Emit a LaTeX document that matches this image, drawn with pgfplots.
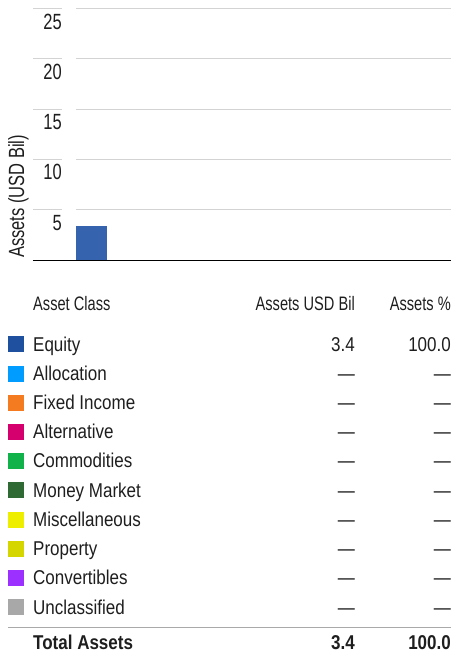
\documentclass[border=0pt]{standalone}
\usepackage{pgfplots}
\pgfplotsset{compat=1.18}
\usepackage{fontspec}
\setmainfont{Liberation Sans}[FakeStretch=0.75]
\newfontfamily\rowfont{Liberation Sans}[FakeStretch=0.85]
\definecolor{cEq}{HTML}{1F50A0}
\definecolor{cBar}{HTML}{3563AD}
\definecolor{cAl}{HTML}{009CFF}
\definecolor{cFi}{HTML}{F47B20}
\definecolor{cAlt}{HTML}{D5006D}
\definecolor{cCo}{HTML}{12B24B}
\definecolor{cMm}{HTML}{2F6A35}
\definecolor{cMi}{HTML}{EEEE00}
\definecolor{cPr}{HTML}{D5D500}
\definecolor{cCv}{HTML}{9B30FF}
\definecolor{cUn}{HTML}{A8A8A8}
\definecolor{gridc}{HTML}{D3D3D3}
\definecolor{txt}{HTML}{1E1E1E}
\tikzset{rowtxt/.style={inner sep=0pt, font=\rowfont\fontsize{20}{24}\selectfont}}
\newcommand{\row}[4]{%
  \node[anchor=base west, rowtxt] at (axis cs:33,#1) {#2};
  \node[anchor=base east, rowtxt] at (axis cs:355,#1) {#3};
  \node[anchor=base east, rowtxt] at (axis cs:451,#1) {#4};}
\begin{document}
\begin{tikzpicture}[font=\fontsize{19.5}{23}\selectfont, text=txt]
% small left axis: gridline stubs and tick labels
\begin{axis}[
  at={(33pt,-260pt)}, anchor=origin,
  scale only axis, width=29pt, height=260pt,
  xmin=0, xmax=1, ymin=0, ymax=25.85,
  axis line style={draw=none}, major tick length=0pt,
  xtick=\empty, ytick={5,10,15,20,25},
  ymajorgrids, grid style={gridc, line width=1pt},
  /pgf/number format/assume math mode=true,
  yticklabel style={anchor=north east, xshift=29pt, yshift=-5pt, inner sep=0pt,
    font=\fontsize{22}{26}\selectfont, text=txt},
]
\end{axis}
% main chart axis
\begin{axis}[
  at={(76pt,-260pt)}, anchor=origin,
  scale only axis, width=375pt, height=260pt,
  xmin=0, xmax=375, ymin=0, ymax=25.85,
  axis line style={draw=none}, major tick length=0pt,
  xtick=\empty, ytick={5,10,15,20,25}, yticklabels={},
  ymajorgrids, grid style={gridc, line width=1pt},
  clip=false,
]
\addplot[ybar, bar width=31pt, fill=cBar, draw=none] coordinates {(15.5,3.4)};
\draw[black, line width=1pt] (axis cs:-43,0) -- (axis cs:375,0);
\end{axis}
% table axis in pixel coordinates
\begin{axis}[
  at={(0pt,0pt)}, anchor=north west,
  scale only axis, width=451pt, height=653pt,
  xmin=0, xmax=451, ymin=0, ymax=653, y dir=reverse,
  axis lines=none, clip=false,
  scatter/classes={
    a={mark=square*, cEq, mark size=7.5pt},
    b={mark=square*, cAl, mark size=7.5pt},
    c={mark=square*, cFi, mark size=7.5pt},
    d={mark=square*, cAlt, mark size=7.5pt},
    e={mark=square*, cCo, mark size=7.5pt},
    f={mark=square*, cMm, mark size=7.5pt},
    g={mark=square*, cMi, mark size=7.5pt},
    h={mark=square*, cPr, mark size=7.5pt},
    i={mark=square*, cCv, mark size=7.5pt},
    j={mark=square*, cUn, mark size=7.5pt}},
]
\addplot[scatter, only marks, scatter src=explicit symbolic] coordinates {
  (15.5,344.0) [a]
  (15.5,373.2) [b]
  (15.5,402.4) [c]
  (15.5,431.7) [d]
  (15.5,460.9) [e]
  (15.5,490.1) [f]
  (15.5,519.3) [g]
  (15.5,548.5) [h]
  (15.5,577.8) [i]
  (15.5,607.0) [j]
};
\node[rotate=90, anchor=base west, inner sep=0pt, font=\fontsize{22}{26}\selectfont]
  at (axis cs:24,258) {Assets (USD Bil)};
\node[anchor=base west, inner sep=0pt] at (axis cs:33,310) {Asset Class};
\node[anchor=base east, inner sep=0pt] at (axis cs:355,310) {Assets USD Bil};
\node[anchor=base east, inner sep=0pt] at (axis cs:451,310) {Assets \%};
\row{351.0}{Equity}{3.4}{100.0}
\row{380.2}{Allocation}{—}{—}
\row{409.4}{Fixed Income}{—}{—}
\row{438.7}{Alternative}{—}{—}
\row{467.9}{Commodities}{—}{—}
\row{497.1}{Money Market}{—}{—}
\row{526.3}{Miscellaneous}{—}{—}
\row{555.5}{Property}{—}{—}
\row{584.8}{Convertibles}{—}{—}
\row{614.0}{Unclassified}{—}{—}
\draw[gridc!80!black, line width=1pt] (axis cs:8,627) -- (axis cs:451,627);
\node[anchor=base west, rowtxt, font=\rowfont\fontsize{20}{24}\selectfont\bfseries] at (axis cs:33,649) {Total Assets};
\node[anchor=base east, rowtxt, font=\rowfont\fontsize{20}{24}\selectfont\bfseries] at (axis cs:355,649) {3.4};
\node[anchor=base east, rowtxt, font=\rowfont\fontsize{20}{24}\selectfont\bfseries] at (axis cs:451,649) {100.0};
\end{axis}
\pgfresetboundingbox
\path[use as bounding box] (0,0) rectangle (451pt,-653pt);
\end{tikzpicture}
\end{document}
